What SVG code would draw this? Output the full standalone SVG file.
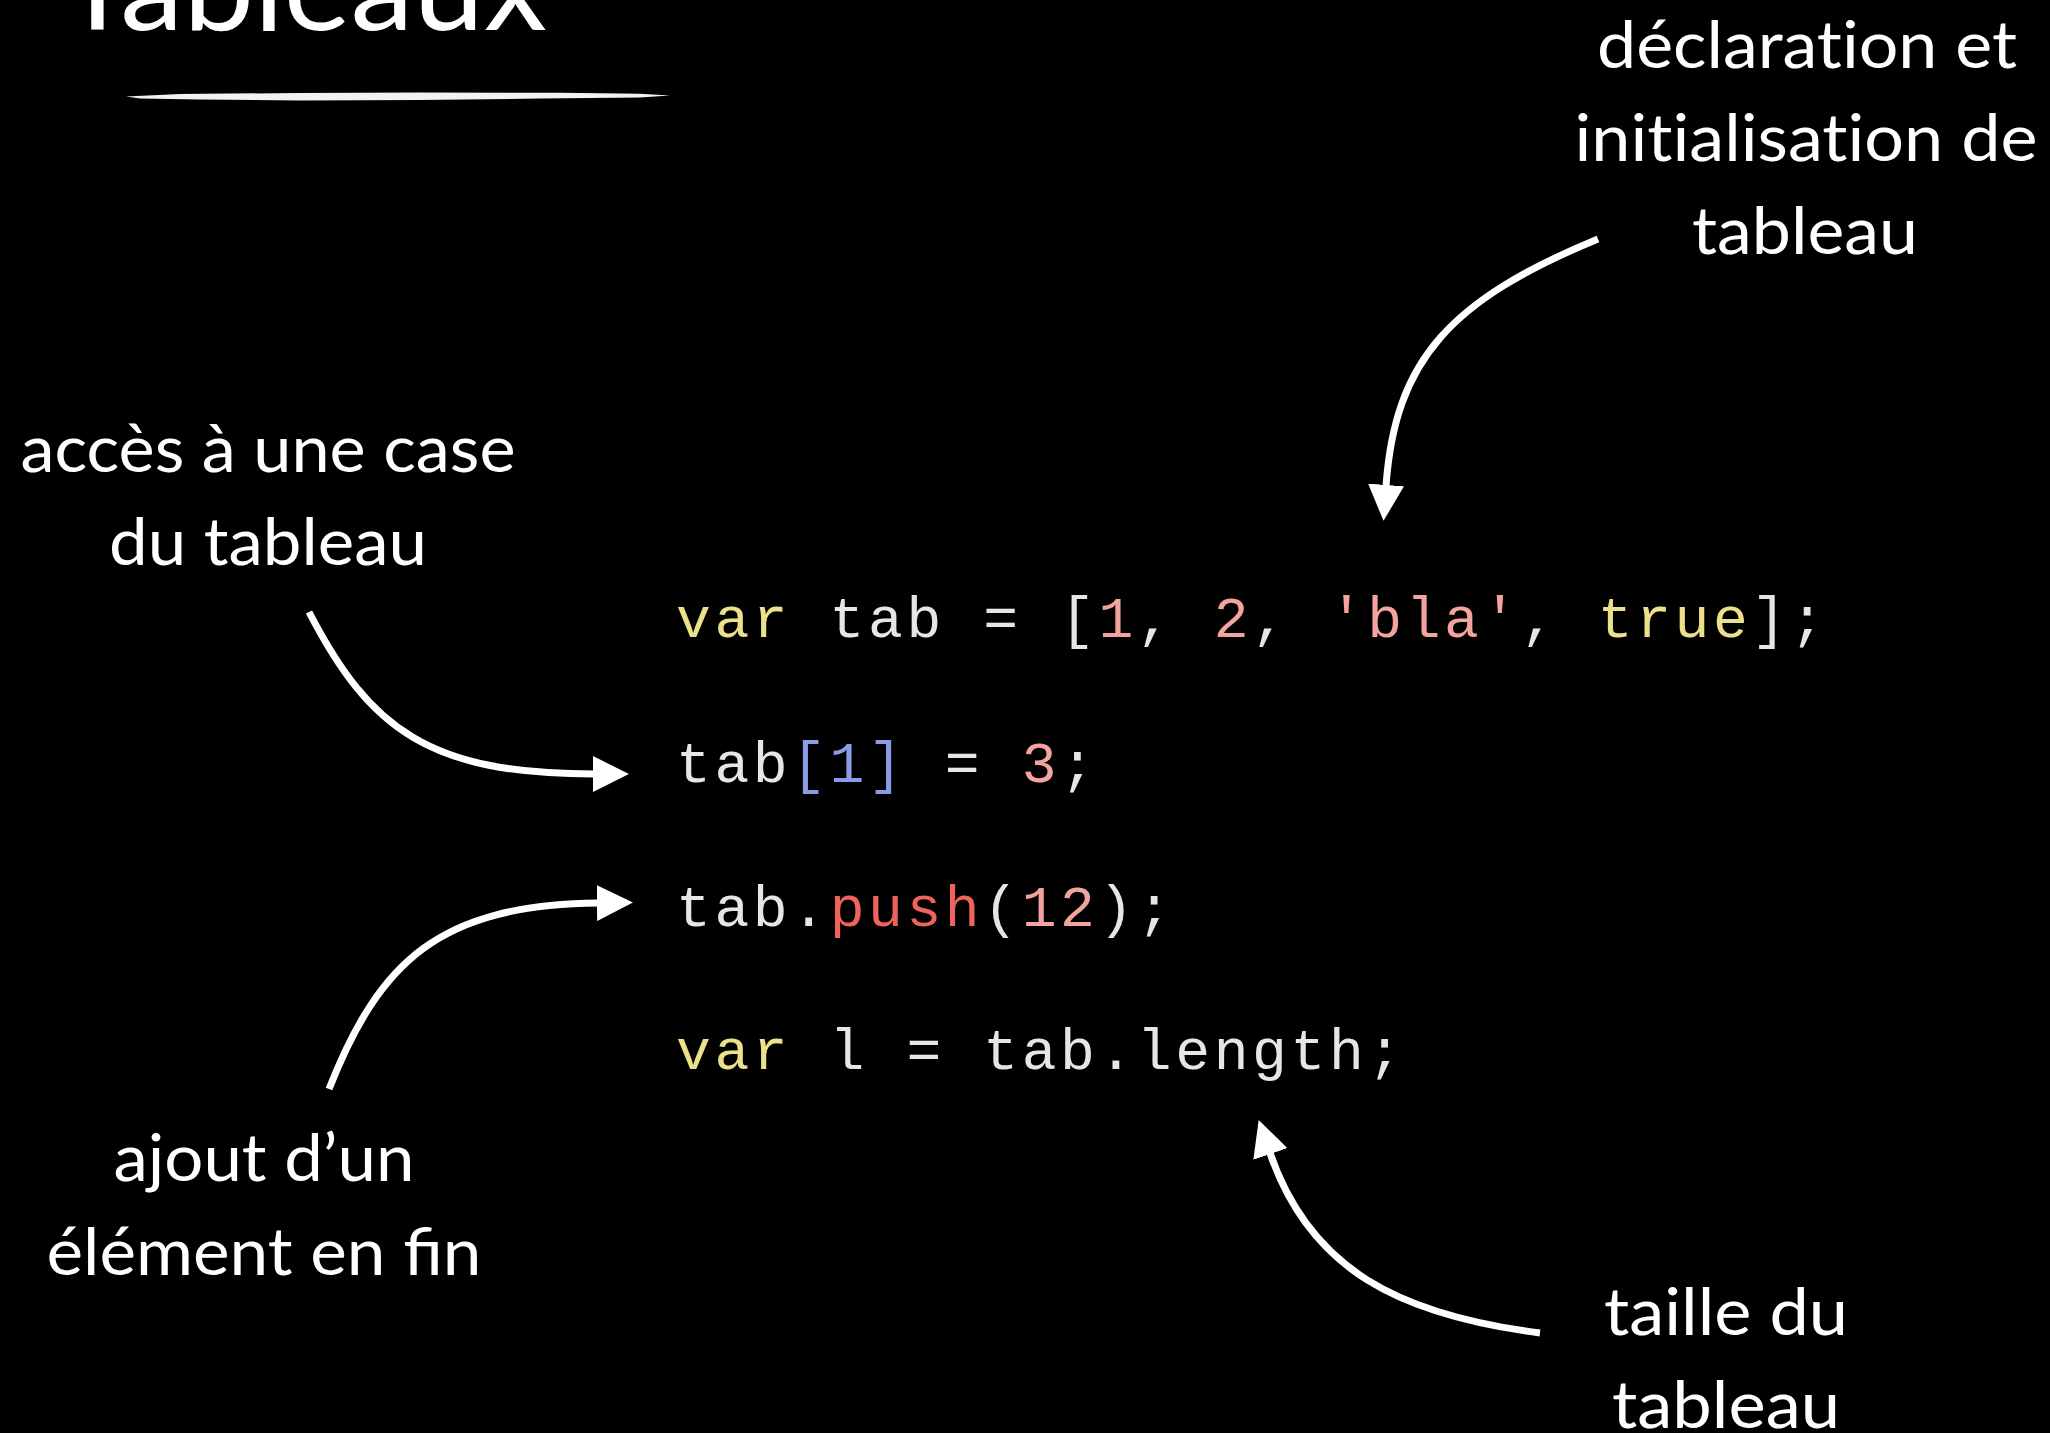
<svg xmlns="http://www.w3.org/2000/svg" width="2050" height="1433" viewBox="0 0 2050 1433">
<defs>
<style>
.lbl{font-family:Lato,"Open Sans","Liberation Sans",sans-serif;font-size:66px;fill:#ffffff;text-anchor:middle;font-variant-ligatures:none}
.lig{font-variant-ligatures:common-ligatures}
.title{font-family:Lato,"Open Sans","Liberation Sans",sans-serif;font-size:120px;fill:#ffffff}
.code{font-family:"Liberation Mono","DejaVu Sans Mono",monospace;font-size:58px;letter-spacing:3.6px;fill:#e6e6e6}
.kw{fill:#ece08a}
.num{fill:#f4a49e}
.idx{fill:#8a9ce6}
.fn{fill:#f0625c}
.arrow{fill:none;stroke:#ffffff;stroke-width:7;stroke-linecap:butt}
</style>
<marker id="ah" markerUnits="userSpaceOnUse" markerWidth="36" markerHeight="36" viewBox="0 0 34 34" refX="1" refY="17" orient="auto">
<path d="M0,0 L34,17 L0,34 z" fill="#ffffff"/>
</marker>
</defs>
<rect x="0" y="0" width="2050" height="1433" fill="#000000"/>

<g id="title">
<text class="title" x="60" y="30" textLength="487" lengthAdjust="spacingAndGlyphs">Tableaux</text>
<path d="M126,96.5 L180,94 L300,93 L420,92.5 L560,92.8 L640,93.8 L670,95.5 L640,97.5 L540,98.5 L420,100 L300,100.5 L200,99.5 L140,98.5 Z" fill="#f2f2f2"/>
</g>

<g id="label-declaration">
<text class="lbl" x="1807" y="68" textLength="420" lengthAdjust="spacingAndGlyphs">déclaration et</text>
<text class="lbl" x="1806" y="161" textLength="463" lengthAdjust="spacingAndGlyphs">initialisation de</text>
<text class="lbl" x="1805" y="254" textLength="226" lengthAdjust="spacingAndGlyphs">tableau</text>
</g>

<g id="label-acces">
<text class="lbl" x="268" y="472" textLength="495" lengthAdjust="spacingAndGlyphs">accès à une case</text>
<text class="lbl" x="268" y="565" textLength="318" lengthAdjust="spacingAndGlyphs">du tableau</text>
</g>

<g id="label-ajout">
<text class="lbl" x="264" y="1181" textLength="301" lengthAdjust="spacingAndGlyphs">ajout d’un</text>
<text class="lbl lig" x="264" y="1275" textLength="435" lengthAdjust="spacingAndGlyphs">élément en fin</text>
</g>

<g id="label-taille">
<text class="lbl" x="1726" y="1335" textLength="244" lengthAdjust="spacingAndGlyphs">taille du</text>
<text class="lbl" x="1726" y="1428" textLength="228" lengthAdjust="spacingAndGlyphs">tableau</text>
</g>

<g id="code">
<text class="code" x="676" y="637" xml:space="preserve"><tspan class="kw">var</tspan> tab = [<tspan class="num">1</tspan>, <tspan class="num">2</tspan>, <tspan class="num">'bla'</tspan>, <tspan class="kw">true</tspan>];</text>
<text class="code" x="676" y="782" xml:space="preserve">tab<tspan class="idx">[1]</tspan> = <tspan class="num">3</tspan>;</text>
<text class="code" x="676" y="926" xml:space="preserve">tab.<tspan class="fn">push</tspan>(<tspan class="num">12</tspan>);</text>
<text class="code" x="676" y="1069" xml:space="preserve"><tspan class="kw">var</tspan> l = tab.length;</text>
</g>

<g id="connectors">
<path class="arrow" d="M1598,239 C1450,300 1395,360 1386,486" marker-end="url(#ah)"/>
<path class="arrow" d="M309,612 C370,730 430,774 594,774" marker-end="url(#ah)"/>
<path class="arrow" d="M329,1089 C380,960 440,905 598,903" marker-end="url(#ah)"/>
<path class="arrow" d="M1540,1333 C1400,1315 1310,1270 1270,1153" marker-end="url(#ah)"/>
</g>
</svg>
